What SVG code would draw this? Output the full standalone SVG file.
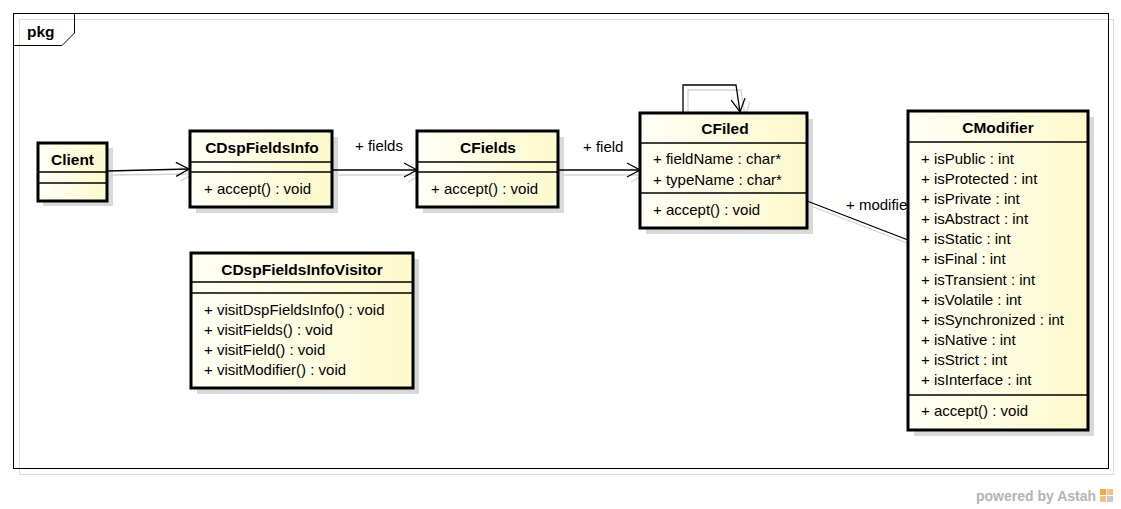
<svg xmlns="http://www.w3.org/2000/svg" width="1121" height="509" viewBox="0 0 1121 509">
<defs>
<linearGradient id="fillg" x1="0" y1="0" x2="1" y2="0">
<stop offset="0" stop-color="#fffff6"/>
<stop offset="1" stop-color="#fdf9cc"/>
</linearGradient>
<marker id="open" markerWidth="16" markerHeight="16" refX="14" refY="8" orient="auto" markerUnits="userSpaceOnUse">
<path d="M1,1 L14,8 L1,15" fill="none" stroke="#000" stroke-width="1.3"/>
</marker>
<marker id="openS" markerWidth="16" markerHeight="16" refX="14" refY="8" orient="auto" markerUnits="userSpaceOnUse">
<path d="M1,1 L14,8 L1,15" fill="none" stroke="#d4d4d4" stroke-width="1.3"/>
</marker>
</defs>
<style>
text{font-family:"Liberation Sans",Arial,sans-serif;font-size:15px;fill:#000}
.name{font-weight:bold;text-anchor:middle;font-size:15.5px}
.box{fill:url(#fillg);stroke:#000;stroke-width:3}
.shadow{fill:#d9d9d9;stroke:none}
.div{stroke:#000;stroke-width:1.5}
.conn{stroke:#000;stroke-width:1.3;fill:none}
.connS{stroke:#d4d4d4;stroke-width:1.3;fill:none}
</style>
<rect width="1121" height="509" fill="#fff"/>
<g id="frame">
<rect x="19.5" y="19.5" width="1094" height="455" fill="none" stroke="#dcdcdc" stroke-width="1"/>
<rect x="13.5" y="13.5" width="1095" height="455" fill="none" stroke="#000" stroke-width="1"/>
<path d="M13.5,45.5 L62,45.5 L74.5,33 L74.5,13.5" fill="none" stroke="#000" stroke-width="1"/>
<text x="27" y="37" style="font-weight:bold;font-size:15.5px">pkg</text>
</g>
<g id="shadows">
<rect class="shadow" x="43" y="148" width="70" height="58"/>
<rect class="shadow" x="196" y="137" width="142" height="76"/>
<rect class="shadow" x="423" y="137" width="141" height="76"/>
<rect class="shadow" x="646" y="119" width="167" height="115"/>
<rect class="shadow" x="914" y="117" width="180" height="319"/>
<rect class="shadow" x="197" y="259" width="222" height="135"/>
</g>
<g id="connectors">
<line class="connS" x1="111" y1="175" x2="193" y2="174" marker-end="url(#openS)"/>
<line class="connS" x1="336" y1="175" x2="421" y2="175" marker-end="url(#openS)"/>
<line class="connS" x1="562" y1="175" x2="644" y2="175" marker-end="url(#openS)"/>
<path class="connS" d="M688,118 L688,90 L741,90 L745,116" marker-end="url(#openS)"/>
<line class="connS" x1="811" y1="206" x2="912" y2="245"/>
<line class="conn" x1="107" y1="171" x2="189" y2="169" marker-end="url(#open)"/>
<line class="conn" x1="332" y1="170" x2="417" y2="170" marker-end="url(#open)"/>
<line class="conn" x1="558" y1="170" x2="640" y2="170" marker-end="url(#open)"/>
<path class="conn" d="M683,113 L683,85 L736,85 L740,112" marker-end="url(#open)"/>
<line class="conn" x1="807" y1="201" x2="908" y2="240"/>
<text x="355" y="151">+ fields</text>
<text x="583" y="152">+ field</text>
<text x="846" y="210">+ modifier</text>
</g>
<g id="Client">
<rect class="box" x="38" y="143" width="69" height="58"/>
<line class="div" x1="38" y1="172" x2="107" y2="172"/>
<line class="div" x1="38" y1="183" x2="107" y2="183"/>
<text class="name" x="72.5" y="165">Client</text>
</g>
<g id="CDspFieldsInfo">
<rect class="box" x="190" y="131" width="142" height="76"/>
<line class="div" x1="190" y1="162" x2="332" y2="162"/>
<line class="div" x1="190" y1="172" x2="332" y2="172"/>
<text class="name" x="262" y="153">CDspFieldsInfo</text>
<text x="204" y="194">+ accept() : void</text>
</g>
<g id="CFields">
<rect class="box" x="417" y="131" width="141" height="76"/>
<line class="div" x1="417" y1="162" x2="558" y2="162"/>
<line class="div" x1="417" y1="172" x2="558" y2="172"/>
<text class="name" x="488" y="153">CFields</text>
<text x="431" y="194">+ accept() : void</text>
</g>
<g id="CFiled">
<rect class="box" x="640" y="113" width="167" height="115"/>
<line class="div" x1="640" y1="143" x2="807" y2="143"/>
<line class="div" x1="640" y1="193" x2="807" y2="193"/>
<text class="name" x="725" y="134">CFiled</text>
<text x="653" y="164">+ fieldName : char*</text>
<text x="653" y="185">+ typeName : char*</text>
<text x="653" y="215">+ accept() : void</text>
</g>
<g id="CModifier">
<rect class="box" x="908" y="111" width="180" height="319"/>
<line class="div" x1="908" y1="142" x2="1088" y2="142"/>
<line class="div" x1="908" y1="395" x2="1088" y2="395"/>
<text class="name" x="998" y="133">CModifier</text>
<text x="921" y="164">+ isPublic : int</text>
<text x="921" y="184">+ isProtected : int</text>
<text x="921" y="204">+ isPrivate : int</text>
<text x="921" y="224">+ isAbstract : int</text>
<text x="921" y="244">+ isStatic : int</text>
<text x="921" y="264">+ isFinal : int</text>
<text x="921" y="285">+ isTransient : int</text>
<text x="921" y="305">+ isVolatile : int</text>
<text x="921" y="325">+ isSynchronized : int</text>
<text x="921" y="345">+ isNative : int</text>
<text x="921" y="365">+ isStrict : int</text>
<text x="921" y="385">+ isInterface : int</text>
<text x="921" y="416">+ accept() : void</text>
</g>
<g id="CDspFieldsInfoVisitor">
<rect class="box" x="191" y="253" width="222" height="135"/>
<line class="div" x1="191" y1="282" x2="413" y2="282"/>
<line class="div" x1="191" y1="293" x2="413" y2="293"/>
<text class="name" x="302" y="275">CDspFieldsInfoVisitor</text>
<text x="204" y="315">+ visitDspFieldsInfo() : void</text>
<text x="204" y="335">+ visitFields() : void</text>
<text x="204" y="355">+ visitField() : void</text>
<text x="204" y="375">+ visitModifier() : void</text>
</g>
<g id="watermark">
<text x="976" y="501" style="font-weight:bold;font-size:14px;fill:#b4b4b4">powered by Astah</text>
<rect x="1100" y="489" width="6" height="6" fill="#f0a64a"/>
<rect x="1107" y="489" width="6" height="6" fill="#f5c27a"/>
<rect x="1100" y="496" width="6" height="6" fill="#f5c27a"/>
<rect x="1107" y="496" width="6" height="6" fill="#c8c8c8"/>
</g>
</svg>
